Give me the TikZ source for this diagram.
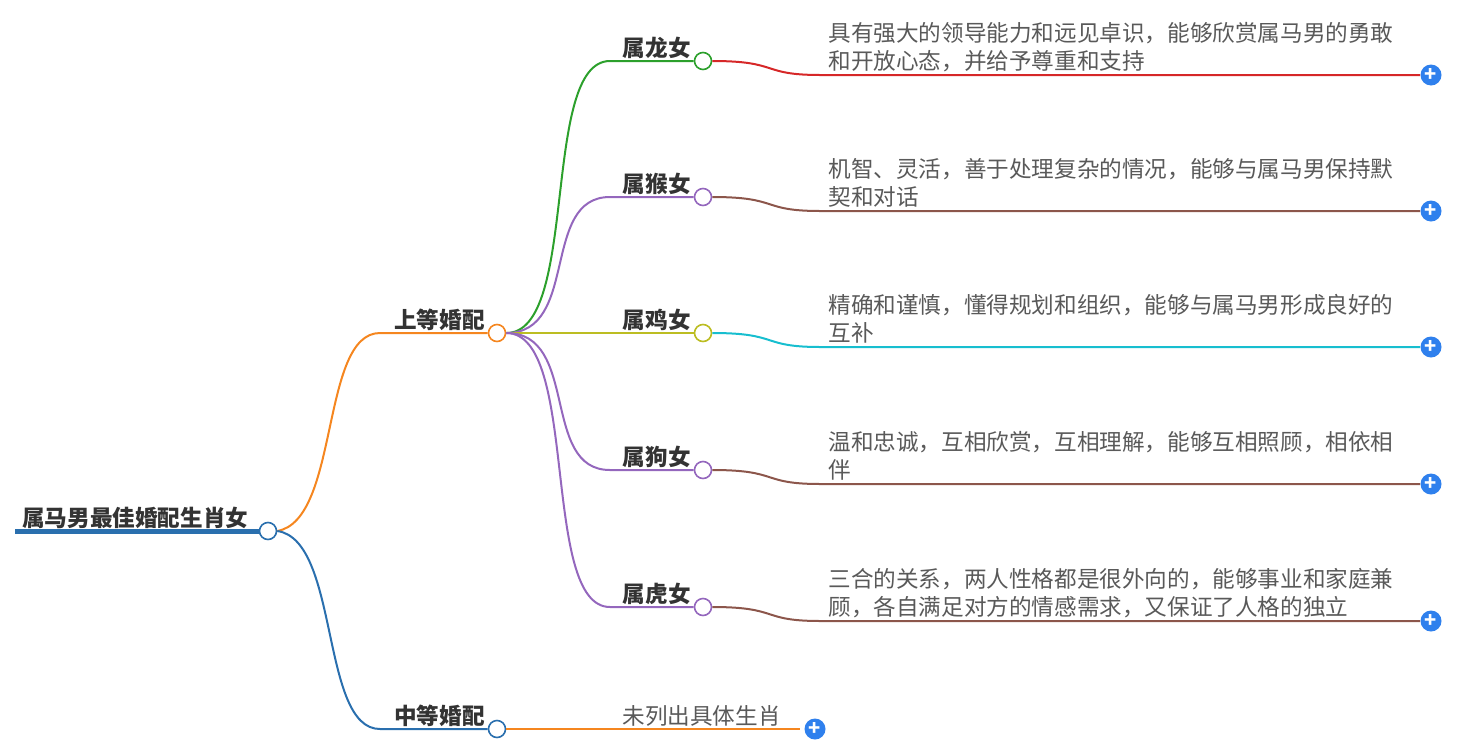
\documentclass[tikz,border=0pt]{standalone}
\usepackage{fontspec}
\setmainfont{Noto Sans CJK SC}
\newfontfamily\lightcjk{Noto Sans CJK SC Light}
\begin{document}
\begin{tikzpicture}[x=0.5pt,y=-0.5pt,
  lbl/.style={font=\fontsize{11.3}{14}\selectfont\bfseries,text=black!80,inner sep=0pt,anchor=south east},
  desc/.style={font=\fontsize{11.3}{14}\selectfont,text=black!65,inner sep=0pt,anchor=south west,align=left},
  dot/.style={circle,draw,fill=white,line width=0.8pt,minimum size=8.5pt,inner sep=0pt},
  plus/.style={circle,fill=cplus,minimum size=10.5pt,inner sep=0pt,text=white,font=\bfseries\fontsize{10}{10}\selectfont},
  ln/.style={line width=1pt}]
\useasboundingbox (0,0) rectangle (1473,745);
\definecolor{cplus}{HTML}{2F80ED}
\definecolor{cblue}{HTML}{2A6FAE}
\definecolor{corange}{HTML}{F5861F}
\definecolor{cgreen}{HTML}{2CA02C}
\definecolor{cpurple}{HTML}{9467BD}
\definecolor{colive}{HTML}{BCBD22}
\definecolor{cred}{HTML}{D62728}
\definecolor{cbrown}{HTML}{8C564B}
\definecolor{ccyan}{HTML}{17BECF}
% root
\draw[cblue,line width=2.5pt] (15,531) -- (260,531);
\node[lbl,anchor=south west] (root) at (22,529) {属马男最佳婚配生肖女};
\node[dot,draw=cblue] (rc) at (268,531) {};
% level 1
\node[dot,draw=corange] (up) at (497,333) {};
\node[lbl] at (485,331) {上等婚配};
\node[dot,draw=cblue] (mid) at (497,729) {};
\node[lbl] at (485,727) {中等婚配};
\draw[corange,ln] (rc.east) .. controls (340,520) and (320,333) .. (380,333) -- (up.west);
\draw[cblue,ln] (rc.east) .. controls (340,540) and (320,729) .. (380,729) -- (mid.west);
% mid child
\draw[corange,ln] (mid.east) -- (800,729);
\node[desc] at (622,727) {未列出具体生肖};
\node[plus] (pm) at (815,729) {+};
% children
\foreach \y/\t/\c/\lc/\d [count=\i] in {
 61/属龙女/cgreen/cred/{具有强大的领导能力和远见卓识，能够欣赏属马男的勇敢\\和开放心态，并给予尊重和支持},
 197/属猴女/cpurple/cbrown/{机智、灵活，善于处理复杂的情况，能够与属马男保持默\\契和对话},
 333/属鸡女/colive/ccyan/{精确和谨慎，懂得规划和组织，能够与属马男形成良好的\\互补},
 470/属狗女/cpurple/cbrown/{温和忠诚，互相欣赏，互相理解，能够互相照顾，相依相\\伴},
 607/属虎女/cpurple/cbrown/{三合的关系，两人性格都是很外向的，能够事业和家庭兼\\顾，各自满足对方的情感需求，又保证了人格的独立}}{
  \node[dot,draw=\c] (c\i) at (703,\y) {};
  \node[lbl] at (691,\y-2) {\t};
  \draw[\c,ln] (up.east) .. controls (580,333) and (540,\y) .. (610,\y) -- (c\i.west);
  \node[plus] (p\i) at (1431,\y+14) {+};
  \draw[\lc,ln] (c\i.east) .. controls (780,\y) and (760,\y+14) .. (820,\y+14) -- (p\i.west);
  \node[desc] at (828,\y+11) {\d};
}
\end{tikzpicture}
\end{document}
